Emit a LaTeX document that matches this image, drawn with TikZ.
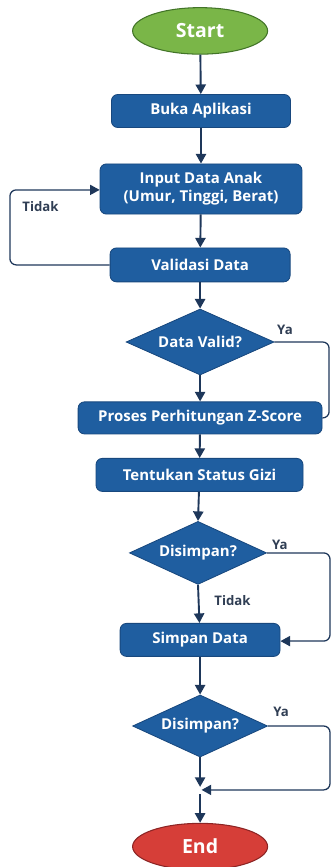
\documentclass[tikz,border=0pt]{standalone}
\usepackage{fontspec}
\setmainfont{Open Sans}
\usepackage{xcolor}
\usetikzlibrary{positioning,shapes.geometric,arrows.meta}
\definecolor{boxblue}{RGB}{31,94,160}
\definecolor{boxedge}{RGB}{24,72,126}
\definecolor{flowline}{RGB}{30,55,90}
\definecolor{startgreen}{RGB}{122,182,72}
\definecolor{startedge}{RGB}{66,116,40}
\definecolor{endred}{RGB}{214,62,56}
\definecolor{endedge}{RGB}{140,36,36}
\definecolor{labeltext}{RGB}{48,62,84}

\begin{document}
\begin{tikzpicture}[
    % Node styles
    terminal/.style={ellipse, draw=#1, line width=1pt, text=white,
                     minimum width=4.5cm, minimum height=1.55cm, inner sep=0pt,
                     font=\fontsize{18.5}{21}\selectfont\bfseries},
    process/.style={rectangle, rounded corners=6pt, fill=boxblue, draw=boxedge, line width=0.8pt,
                    text=white, minimum height=1.1cm, align=center, inner sep=2pt,
                    font=\fontsize{14.2}{17}\selectfont\bfseries},
    decision/.style={diamond, aspect=2.3, fill=boxblue, draw=boxedge, line width=0.8pt, text=white,
                     inner sep=0pt, font=\fontsize{14.2}{17}\selectfont\bfseries},
    % Arrow styles
    flow/.style={-{Triangle[length=0.32cm, width=0.34cm]}, line width=1.8pt, color=flowline},
    branch/.style={-{Triangle[length=0.32cm, width=0.34cm]}, line width=1.2pt, color=flowline, rounded corners=6pt},
    % Label style
    answer/.style={font=\fontsize{12.5}{14}\selectfont\bfseries, text=labeltext}
]

\useasboundingbox (0,0) rectangle (11.033,-28.9);

% Terminals
\node[terminal=startedge, fill=startgreen] (start) at (6.67,-1.03) {Start};
\node[terminal=endedge, fill=endred] (finish) at (6.67,-28.22) {End};

% Process steps
\node[process, minimum width=5.97cm] (open_app) at (6.7,-3.7) {Buka Aplikasi};
\node[process, minimum width=6.73cm, minimum height=1.67cm] (input_data) at (6.7,-6.3) {Input Data Anak\\(Umur, Tinggi, Berat)};
\node[process, minimum width=6cm, minimum height=1.13cm] (validate) at (6.67,-8.83) {Validasi Data};
\node[process, minimum width=8.13cm, minimum height=1.07cm] (zscore) at (6.67,-13.93) {Proses Perhitungan Z-Score};
\node[process, minimum width=6.9cm] (status) at (6.65,-15.83) {Tentukan Status Gizi};
\node[process, minimum width=5.33cm] (save_data) at (6.67,-21.33) {Simpan Data};

% Decisions
\node[decision, minimum width=4.93cm, minimum height=2.2cm] (is_valid) at (6.67,-11.4) {Data Valid?};
\node[decision, minimum width=4.57cm, minimum height=2.1cm] (save_q1) at (6.6,-18.43) {Disimpan?};
\node[decision, minimum width=4.5cm, minimum height=2.07cm] (save_q2) at (6.67,-24.2) {Disimpan?};

% Junction before End
\coordinate (join) at (6.67,-26.33);

% Main flow
\draw[flow] (start) -- (open_app);
\draw[flow] (open_app) -- (input_data);
\draw[flow] (input_data) -- (validate);
\draw[flow] (validate) -- (is_valid);
\draw[flow] (is_valid) -- (zscore);
\draw[flow] (zscore) -- (status);
\draw[flow] (status) -- (save_q1.north);
\draw[flow] (save_q1.south) -- (save_data);
\draw[flow] (save_data) -- (save_q2);
\draw[flow, shorten >=0.1cm] (save_q2) -- (join);
\draw[flow, shorten <=0.15cm] (join) -- (finish);

% Branches
\draw[branch] (validate.west) -| (0.33,-6.33) -- (input_data.west |- 0,-6.33);
\draw[branch, -] (is_valid.east) -| (10.97,-13.93) -- (zscore.east);
\draw[branch] (save_q1.east) -| (11.0,-21.37) -- (save_data.east |- 0,-21.37);
\draw[branch, shorten >=0.05cm] (save_q2.east) -| (11.0,-26.33) -- (join);

% Branch labels
\node[answer] (lbl_tidak1) at (1.35,-6.9) {Tidak};
\node[answer] (lbl_ya1) at (9.5,-11.0) {Ya};
\node[answer] (lbl_ya2) at (9.33,-18.17) {Ya};
\node[answer] (lbl_tidak2) at (7.75,-20.03) {Tidak};
\node[answer] (lbl_ya3) at (9.37,-23.73) {Ya};

\end{tikzpicture}
\end{document}
